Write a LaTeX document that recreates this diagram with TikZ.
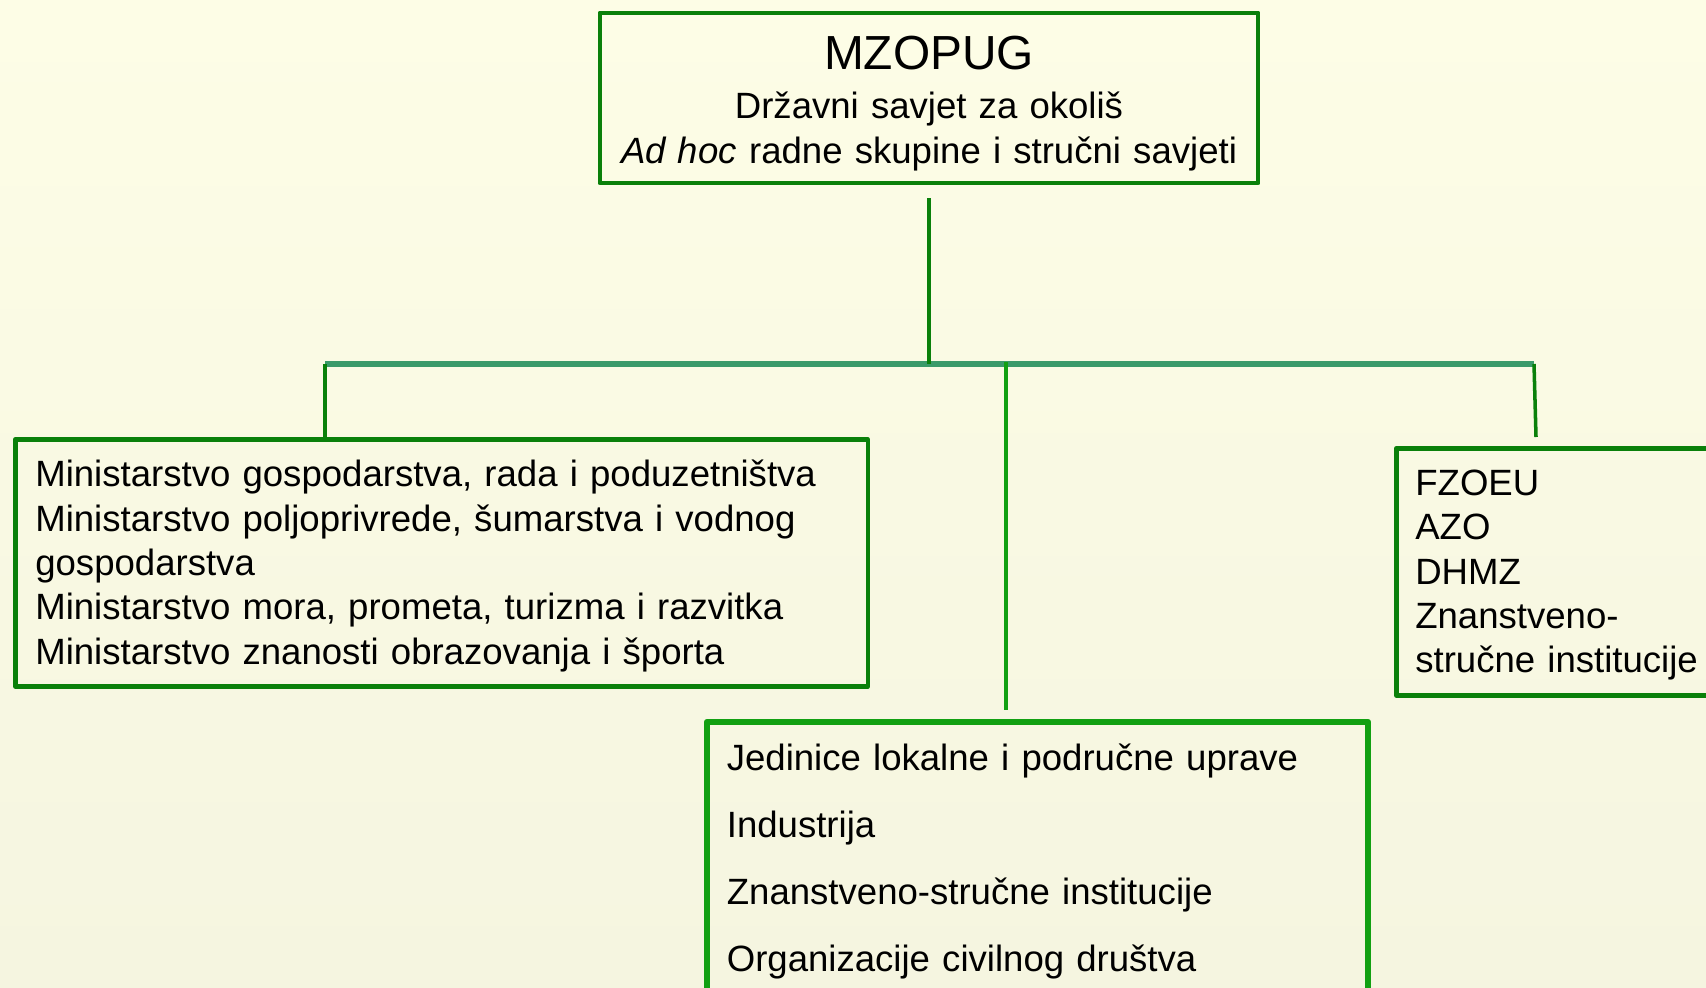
\documentclass[tikz,border=0pt]{standalone}
\usepackage{fontspec}
\setmainfont{Liberation Sans}
\usepackage{tikz}
\usetikzlibrary{positioning}
\definecolor{boxgreen}{RGB}{10,128,10}
\definecolor{litegreen}{RGB}{18,160,18}
\definecolor{bargreen}{RGB}{58,154,106}
\definecolor{paletop}{RGB}{253,253,230}
\definecolor{palebot}{RGB}{245,245,224}

\begin{document}
\begin{tikzpicture}[x=0.01cm,y=-0.01cm,line join=round,
  orgbox/.style={draw=boxgreen,line width=1.3pt,rectangle,inner ysep=0pt,
    align=left,font=\fontsize{10.4}{12.6}\selectfont},
  link/.style={draw=boxgreen,line width=1pt},
  bar/.style={draw=bargreen,line width=1.6pt}]
\useasboundingbox (0,0) rectangle (1706,987);
\clip (0,0) rectangle (1706,987);
\shade[top color=paletop,bottom color=palebot] (0,0) rectangle (1706,987);

% boxes
\node[orgbox,align=center,text width=6.44cm,inner xsep=0.07cm,minimum height=1.70cm]
  (Top) at (929,98) {\rule{0pt}{12.7pt}{\fontsize{13.6}{16}\selectfont MZOPUG}\\[1.3pt]
  Državni savjet za okoliš\\ \textit{Ad hoc} radne skupine i stručni savjeti};
\node[orgbox,anchor=north west,text width=8.12cm,inner xsep=0.20cm,minimum height=2.47cm]
  (Min) at (13,437) {\rule{0pt}{9.3pt}Ministarstvo gospodarstva, rada i poduzetništva\\
  Ministarstvo poljoprivrede, šumarstva i vodnog\\ gospodarstva\\
  Ministarstvo mora, prometa, turizma i razvitka\\
  Ministarstvo znanosti obrazovanja i športa};
\node[orgbox,anchor=north west,text width=3.26cm,inner xsep=0.19cm,minimum height=2.47cm]
  (Agen) at (1394,446) {\rule{0pt}{9.1pt}FZOEU\\ AZO\\ DHMZ\\ Znanstveno-\\ stručne institucije};
\node[orgbox,draw=litegreen,line width=1.6pt,anchor=north west,text width=6.21cm,
  inner xsep=0.20cm,minimum height=2.8cm,font=\fontsize{10.4}{19.05}\selectfont]
  (Loc) at (704,719) {Jedinice lokalne i područne uprave\\ Industrija\\
  Znanstveno-stručne institucije\\ Organizacije civilnog društva};

% connectors
\coordinate (barL) at (325,364);
\coordinate (barR) at (1534,364);
\coordinate (barM) at (1006,362);
\draw[bar] (barL) -- (barR);
\draw[link] ([yshift=-0.13cm]Top.south) -- (Top.south |- barL);
\draw[link] (barL) -- (barL |- Min.north);
\draw[link,draw=litegreen] (barM) -- ([yshift=0.09cm]Loc.north -| barM);
\draw[link] (barR) -- ([shift={(2,-9)}]barR |- Agen.north);
\end{tikzpicture}
\end{document}
